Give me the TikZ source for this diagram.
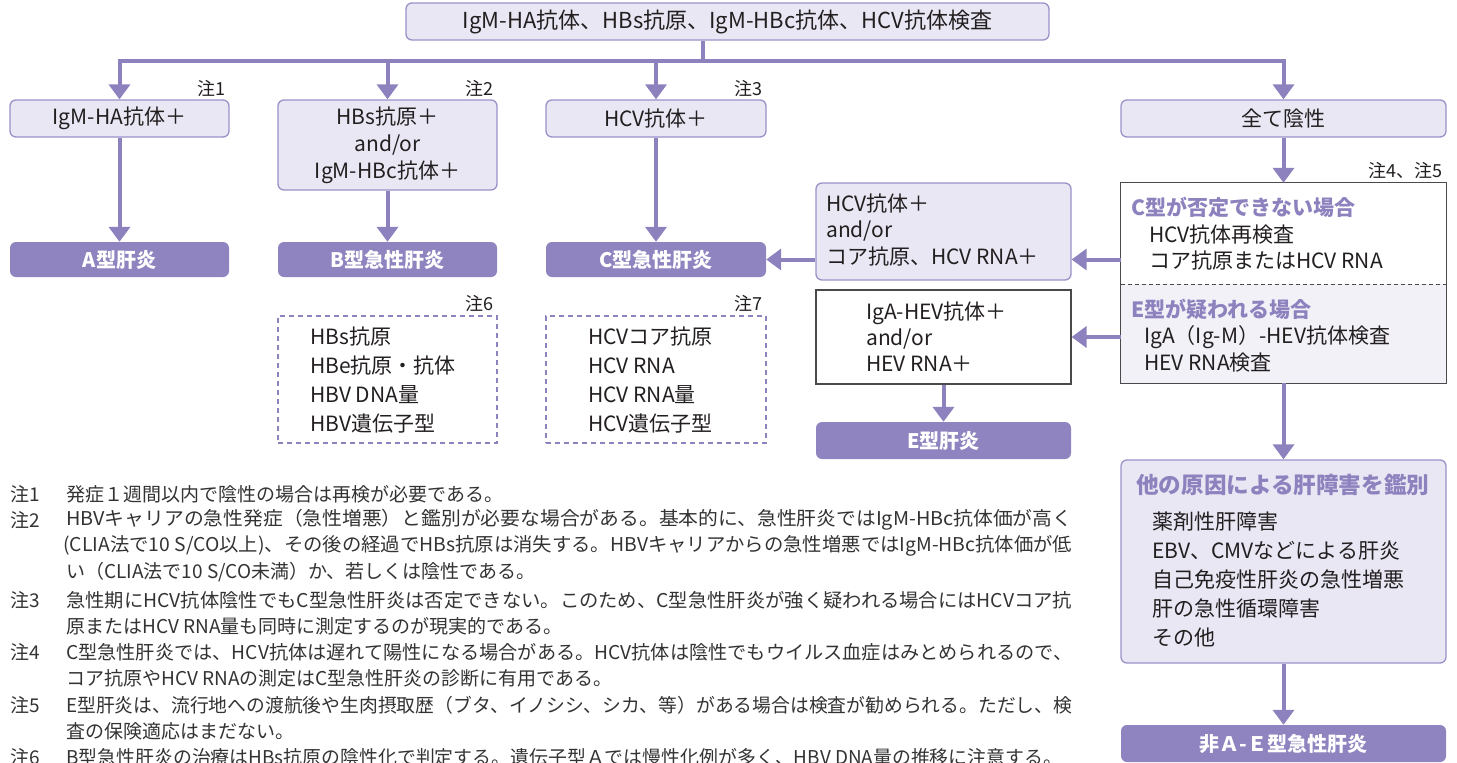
\documentclass[tikz,border=0pt]{standalone}
\usepackage{fontspec}
\usepackage{graphicx}
\setmainfont{Noto Sans CJK JP}
\usetikzlibrary{arrows.meta}
\definecolor{pline}{HTML}{8E82BE}
\definecolor{pfill}{HTML}{8F84BF}
\definecolor{lfill}{HTML}{E9E7F4}
\definecolor{lborder}{HTML}{9B91C9}
\definecolor{efill}{HTML}{F2F1F8}
\definecolor{dborder}{HTML}{4A4A4A}
\definecolor{txt}{HTML}{231F20}
\definecolor{ntxt}{HTML}{333333}
\newcommand\fullline[1]{\resizebox{1006pt}{\height}{#1}}
\begin{document}
\begin{tikzpicture}[x=1pt,y=-1pt,
  lbox/.style={draw=lborder, line width=1.3pt, fill=lfill, rounded corners=6pt, text=txt,
    font=\fontsize{21}{27}\selectfont, align=center, inner sep=0pt},
  pbox/.style={fill=pfill, draw=none, rounded corners=6pt, text=white,
    font=\bfseries\fontsize{20}{24}\selectfont, inner sep=0pt},
  wbox/.style={draw=dborder, line width=1.2pt, fill=white, inner sep=0pt},
  dbox/.style={draw=pline, line width=2pt, dash pattern=on 5pt off 4pt, inner sep=0pt},
  conn/.style={draw=pline, line width=4pt},
  arr/.style={conn, -{Triangle[width=21pt,length=15pt]}},
  lbl/.style={text=txt, font=\fontsize{21}{26}\selectfont, inner sep=0pt, anchor=west, align=left},
  ttl/.style={text=pline, font=\bfseries\fontsize{21}{26}\selectfont, inner sep=0pt, anchor=west},
  chnote/.style={text=txt, font=\fontsize{18}{20}\selectfont, inner sep=0pt, anchor=south east},
  ntext/.style={text=ntxt, font=\fontsize{19}{22}\selectfont, inner sep=0pt, anchor=west}
]
\useasboundingbox (0,0) rectangle (1457,763);

% top
\node[lbox, font=\fontsize{22}{27}\selectfont, minimum width=643pt, minimum height=37pt] (top) at (727.5,21.5)
  {IgM-HA抗体、HBs抗原、IgM-HBc抗体、HCV抗体検査};

% first row
\node[lbox, minimum width=219pt, minimum height=37pt] (boxA) at (119.5,118.5) {IgM-HA抗体＋};
\node[lbox, minimum width=219pt, minimum height=90pt] (boxB) at (387.5,145) {HBs抗原＋\\and/or\\IgM-HBc抗体＋};
\node[lbox, minimum width=220pt, minimum height=37pt] (boxC) at (656,118.5) {HCV抗体＋};
\node[lbox, minimum width=325pt, minimum height=37pt] (neg) at (1283.5,118.5) {全て陰性};

\node[chnote] (n1) at (226,97) {注1};
\node[chnote] (n2) at (494,97) {注2};
\node[chnote] (n3) at (763,97) {注3};
\node[chnote] (n45) at (1443,179) {注4、注5};
\node[chnote] (n6) at (494,312) {注6};
\node[chnote] (n7) at (763,312) {注7};

% results
\node[pbox, minimum width=219pt, minimum height=35pt] (resA) at (119.5,259.5) {A型肝炎};
\node[pbox, minimum width=219pt, minimum height=35pt] (resB) at (387.5,259.5) {B型急性肝炎};
\node[pbox, minimum width=220pt, minimum height=35pt] (resC) at (656,259.5) {C型急性肝炎};
\node[pbox, minimum width=255pt, minimum height=37pt] (resE) at (943.5,440.5) {E型肝炎};
\node[pbox, minimum width=325pt, minimum height=37pt] (resN) at (1283.5,743.5) {非Ａ-Ｅ型急性肝炎};

% middle boxes
\node[lbox, minimum width=255pt, minimum height=97pt] (hcvp) at (943.5,231.5) {};
\node[lbl, font=\fontsize{21}{26.5}\selectfont] (hcvt) at (826,230) {HCV抗体＋\\and/or\\コア抗原、HCV RNA＋};
\node[wbox, minimum width=255pt, minimum height=94pt] (iga) at (943.5,337) {};
\node[lbl] (igat) at (866,337) {IgA-HEV抗体＋\\and/or\\HEV RNA＋};

% big right box
\node[fill=white, draw=none, minimum width=325pt, minimum height=101pt, inner sep=0pt] (cpart) at (1283.5,233.5) {};
\node[fill=efill, draw=none, minimum width=325pt, minimum height=99pt, inner sep=0pt] (epart) at (1283.5,333.5) {};
\draw[dborder, line width=1.2pt] (cpart.north west) rectangle (epart.south east);
\draw[dborder, line width=1pt, dash pattern=on 4pt off 3pt] (cpart.south west) -- (cpart.south east);
\node[ttl] (ct) at (1131,207) {C型が否定できない場合};
\node[lbl] (c1) at (1149,235) {HCV抗体再検査};
\node[lbl] (c2) at (1149,261) {コア抗原またはHCV RNA};
\node[ttl] (et) at (1131,309) {E型が疑われる場合};
\node[lbl] (e1) at (1144,337) {IgA（Ig-M）-HEV抗体検査};
\node[lbl] (e2) at (1144,363) {HEV RNA検査};

% other causes
\node[lbox, minimum width=325pt, minimum height=203pt] (other) at (1283.5,561.5) {};
\node[ttl, font=\bfseries\fontsize{22.6}{26}\selectfont] (ot) at (1136,485) {他の原因による肝障害を鑑別};
\node[lbl, anchor=north west, font=\fontsize{21}{29}\selectfont] (oi) at (1152,512)
  {薬剤性肝障害\\EBV、CMVなどによる肝炎\\自己免疫性肝炎の急性増悪\\肝の急性循環障害\\その他};

% dashed boxes
\node[dbox, minimum width=219pt, minimum height=127pt] (dashB) at (387.5,379.5) {};
\node[lbl, font=\fontsize{21}{29}\selectfont] (dashBt) at (310,380.5)
  {HBs抗原\\HBe抗原・抗体\\HBV DNA量\\HBV遺伝子型};
\node[dbox, minimum width=220pt, minimum height=127pt] (dashC) at (656,379.5) {};
\node[lbl, font=\fontsize{21}{29}\selectfont] (dashCt) at (588,380.5)
  {HCVコア抗原\\HCV RNA\\HCV RNA量\\HCV遺伝子型};

% connectors
\coordinate (j) at (703,61);
\draw[conn] (top.south -| j) -- (j);
\draw[arr, line join=miter] (j) -| (boxA.north);
\draw[arr, line join=miter] (j) -| (neg.north);
\draw[arr] (j -| boxB.north) -- (boxB.north);
\draw[arr] (j -| boxC.north) -- (boxC.north);
\draw[arr] (boxA.south) -- (resA.north);
\draw[arr] (boxB.south) -- (resB.north);
\draw[arr] (boxC.south) -- (resC.north);
\draw[arr] (neg.south) -- (cpart.north);
\draw[arr] (cpart.west |- resC.east) -- (hcvp.east |- resC.east);
\draw[arr] (hcvp.west |- resC.east) -- (resC.east);
\draw[arr] (epart.west |- iga.east) -- (iga.east);
\draw[arr] (iga.south) -- (resE.north);
\draw[arr] (epart.south) -- (other.north);
\draw[arr] (other.south) -- (resN.north);

% notes
\node[ntext] (l1) at (10,494) {注1};
\node[ntext] (t1) at (66,494) {発症１週間以内で陰性の場合は再検が必要である。};
\node[ntext] (l2) at (10,520) {注2};
\node[ntext] (t2a) at (66,520) {\fullline{HBVキャリアの急性発症（急性増悪）と鑑別が必要な場合がある。基本的に、急性肝炎ではIgM-HBc抗体価が高く}};
\node[ntext] (t2b) at (63,546) {\resizebox{1009pt}{\height}{(CLIA法で10 S/CO以上)、その後の経過でHBs抗原は消失する。HBVキャリアからの急性増悪ではIgM-HBc抗体価が低}};
\node[ntext] (t2c) at (66,572) {い（CLIA法で10 S/CO未満）か、若しくは陰性である。};
\node[ntext] (l3) at (10,600) {注3};
\node[ntext] (t3a) at (66,600) {\fullline{急性期にHCV抗体陰性でもC型急性肝炎は否定できない。このため、C型急性肝炎が強く疑われる場合にはHCVコア抗}};
\node[ntext] (t3b) at (66,626) {原またはHCV RNA量も同時に測定するのが現実的である。};
\node[ntext] (l4) at (10,652) {注4};
\node[ntext] (t4a) at (66,652) {\fullline{C型急性肝炎では、HCV抗体は遅れて陽性になる場合がある。HCV抗体は陰性でもウイルス血症はみとめられるので、}};
\node[ntext] (t4b) at (66,678) {コア抗原やHCV RNAの測定はC型急性肝炎の診断に有用である。};
\node[ntext] (l5) at (10,705) {注5};
\node[ntext] (t5a) at (66,705) {\fullline{E型肝炎は、流行地への渡航後や生肉摂取歴（ブタ、イノシシ、シカ、等）がある場合は検査が勧められる。ただし、検}};
\node[ntext] (t5b) at (66,731) {査の保険適応はまだない。};
\node[ntext] (l6) at (10,757) {注6};
\node[ntext] (t6) at (66,757) {\resizebox{996pt}{\height}{B型急性肝炎の治療はHBs抗原の陰性化で判定する。遺伝子型Ａでは慢性化例が多く、HBV DNA量の推移に注意する。}};
\end{tikzpicture}
\end{document}
